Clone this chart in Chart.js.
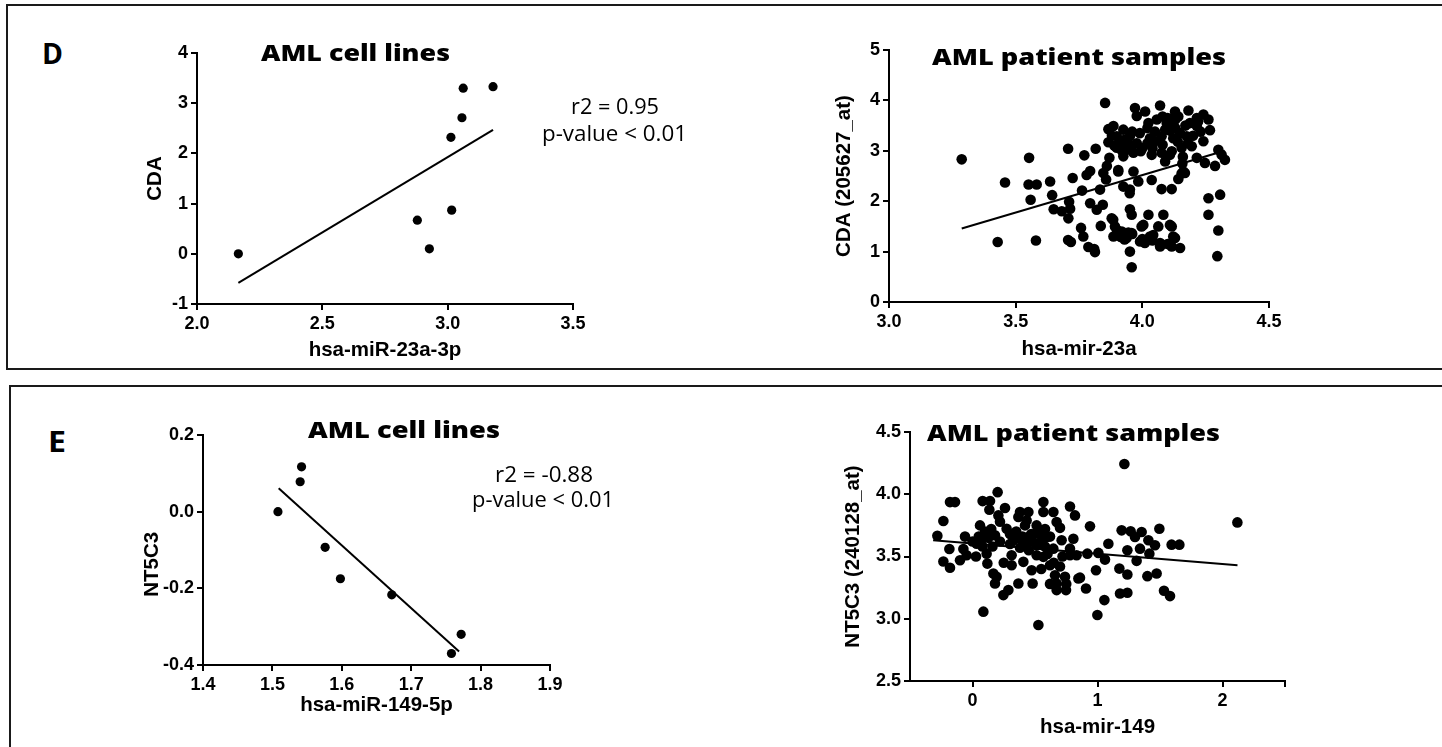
<!DOCTYPE html>
<html>
<head>
<meta charset="utf-8">
<title>AML miRNA / target correlations</title>
<script src="https://cdn.jsdelivr.net/npm/chart.js@4.4.1/dist/chart.umd.min.js"></script>
<style>
  body { margin: 0; background: #fff; }
  #stage { position: relative; width: 1442px; height: 747px; overflow: hidden; background: #fff; }
  .box { position: absolute; border: 2px solid #1a1a1a; }
  .plot { position: absolute; }
  .lbl { position: absolute; white-space: nowrap; color: #000; }
</style>
</head>
<body>
<div id="stage">
  <div class="box" style="left:6px; top:4px; width:1460px; height:362px;"></div>
  <div class="box" style="left:9px; top:385px; width:1460px; height:420px;"></div>
</div>
<script>
// D - CDA vs hsa-miR-23a, cell lines
const dLeftX = [2.165, 2.879, 2.927, 3.016, 3.013, 3.057, 3.062, 3.181];
const dLeftY = [0.00, 0.67, 0.10, 0.87, 2.32, 2.71, 3.30, 3.33];
const dLeftFitX = [2.165, 3.181];
const dLeftFitY = [-0.58, 2.47];
const dLeftXTicks = [2.0, 2.5, 3.0, 3.5];
const dLeftYTicks = [-1, 0, 1, 2, 3, 4];

// D - CDA (205627_at) vs hsa-mir-23a, patient samples
const dRightX = [
  3.287, 3.458, 3.429, 3.553, 3.551, 3.583, 3.559, 3.580, 3.636, 3.644, 3.650, 3.682, 3.707, 3.725, 3.711, 3.715,
  3.708, 3.707, 3.718, 3.771, 3.762, 3.758, 3.767, 3.787, 3.810, 3.813, 3.794, 3.816, 3.794, 3.780, 3.820, 3.836,
  3.844, 3.833, 3.846, 3.853, 3.866, 3.866, 3.870, 3.860, 3.857,
  3.971, 3.978, 4.011, 4.070, 4.129, 4.142, 4.182, 4.215, 4.241, 4.261, 4.267, 4.024, 4.057, 4.096, 4.116, 4.188,
  4.215, 3.886, 3.899, 3.925, 3.951, 3.978, 4.030, 4.050, 4.076, 4.122, 4.149, 4.175, 4.241, 3.899, 3.938, 3.965,
  3.994, 4.037, 4.076, 4.116, 4.155, 4.195, 4.300, 4.313, 4.326, 4.215, 4.247, 4.287, 3.925, 4.090, 4.109, 3.905,
  3.965, 3.925, 3.951, 3.984, 4.037, 4.076, 4.116, 4.142, 4.162, 3.951, 3.958, 3.879, 4.024, 4.083, 3.892, 3.919,
  3.997, 4.063, 4.116, 3.886, 3.938, 3.991, 4.030, 4.070, 4.122, 4.149, 4.116, 3.951, 3.958, 4.261, 4.307, 4.261,
  4.300, 4.296,
  3.900, 3.915, 3.930, 3.945, 3.960, 4.000, 4.040, 4.100, 4.158, 4.160, 4.155, 3.910, 3.940, 3.960, 4.000, 4.020,
  4.040, 4.090, 4.100, 4.130, 4.200, 4.230, 4.170,
  3.880, 3.890, 3.920, 3.930, 3.960, 3.990, 4.020, 4.050, 4.080, 4.110, 4.140, 4.180, 4.220, 4.080, 4.130,
  3.905, 3.958, 4.004, 4.109, 4.043, 4.129, 4.010, 4.070, 3.885, 3.950, 4.168, 3.905
];
const dRightY = [
  2.83, 2.37, 1.19, 2.86, 2.33, 2.33, 2.03, 1.22, 2.39, 2.12, 1.84, 1.80, 3.04, 2.46, 1.99, 1.85,
  1.66, 1.23, 1.19, 2.91, 2.21, 1.47, 1.30, 1.09, 1.05, 0.99, 1.96, 3.04, 2.60, 2.52, 1.83, 1.51,
  1.93, 2.23, 2.56, 3.95, 3.43, 3.17, 2.86, 2.70, 2.43,
  3.85, 3.69, 3.78, 3.90, 3.78, 3.68, 3.80, 3.65, 3.72, 3.62, 3.41, 3.55, 3.62, 3.55, 3.59, 3.55,
  3.49, 3.49, 3.29, 3.42, 3.29, 3.15, 3.25, 3.19, 3.29, 3.25, 3.35, 3.29, 3.19, 3.06, 3.02, 2.96,
  2.99, 2.92, 2.96, 2.99, 3.06, 3.09, 3.02, 2.92, 2.82, 2.86, 2.76, 2.70, 2.89, 2.79, 2.92, 2.62,
  2.59, 2.29, 2.23, 2.39, 2.42, 2.24, 2.24, 2.44, 2.59, 1.84, 1.73, 1.66, 1.73, 1.73, 1.50, 1.40,
  1.50, 1.50, 1.50, 1.30, 1.27, 1.20, 1.30, 1.17, 1.30, 1.07, 1.10, 1.00, 0.69, 2.06, 2.13, 1.73,
  1.42, 0.91,
  1.43, 1.29, 1.24, 1.38, 1.35, 1.25, 1.22, 1.15, 2.75, 2.88, 2.55, 3.15, 3.12, 3.38, 3.05, 3.45,
  3.05, 3.42, 3.65, 3.45, 3.30, 3.38, 3.50,
  3.30, 3.10, 3.00, 3.22, 3.10, 3.35, 3.15, 3.38, 3.12, 3.40, 3.18, 3.15, 3.58, 3.68, 3.62,
  1.40, 1.37, 1.53, 1.53, 1.33, 1.27, 1.17, 1.10, 1.63, 2.16, 2.56, 2.59
];
const dRightFitX = [3.287, 4.325];
const dRightFitY = [1.46, 3.00];
const dRightXTicks = [3.0, 3.5, 4.0, 4.5];
const dRightYTicks = [0, 1, 2, 3, 4, 5];

// E - NT5C3 vs hsa-miR-149, cell lines
const eLeftX = [1.508, 1.540, 1.542, 1.576, 1.598, 1.672, 1.758, 1.772];
const eLeftY = [0.000, 0.078, 0.117, -0.093, -0.175, -0.217, -0.370, -0.320];
const eLeftFitX = [1.509, 1.769];
const eLeftFitY = [0.061, -0.365];
const eLeftXTicks = [1.4, 1.5, 1.6, 1.7, 1.8, 1.9];
const eLeftYTicks = [-0.4, -0.2, 0.0, 0.2];

// E - NT5C3 (240128_at) vs hsa-mir-149, patient samples
const eRightX = [
  -0.281, -0.233, -0.180, -0.140, -0.185, -0.233, -0.180, -0.100, -0.060, -0.073, -0.047, 0.028, 0.060, 0.081, 0.140, 0.135,
  0.201, 0.207, 0.260, 0.220, 0.273, 0.073, 0.127, 0.180, 0.033, 0.113, 0.119, 0.167, 0.193, 0.180, 0.247, 0.287,
  0.087, 0.313, 0.313, 0.367, 0.327, 0.380, 0.367, 0.380, 0.447, 0.433, 0.447, 0.407, 0.473, 0.481, 0.527, 0.513,
  0.567, 0.567, 0.527, 0.513, 0.513, 0.567, 0.593, 0.647, 0.673, 0.700, 0.713, 0.647, 0.620, 0.660, 0.673, 0.740,
  0.673, 0.748, 0.780, 0.820, 0.807, 0.780, 0.833, 0.847, 0.908, 0.940, 0.919, 0.988, 0.999,
  1.215, 2.119, 1.193, 1.265, 1.353, 1.495, 1.300, 1.407, 1.460, 1.087, 1.593, 1.655, 1.340, 1.239, 1.007, 1.060,
  1.313, 1.415, 1.175, 1.239, 1.399, 1.473, 1.180, 1.239, 1.532, 1.580, 1.055,
  0.050, 0.100, 0.430, 0.470, 0.550, 0.600, 0.700, 0.750, 0.620, 0.550, 0.450, 0.250, 0.300, 0.000, 0.150, 0.380,
  0.780, 0.860,
  0.350, 0.400, 0.480, 0.520, 0.580, 0.620, 0.420, 0.300, 0.220, 0.160, 0.080, 0.650, 0.720, 0.580
];
const eRightY = [
  3.667, 3.785, 3.937, 3.937, 3.560, 3.460, 3.410, 3.470, 3.660, 3.560, 3.510, 3.500, 3.750, 3.945, 3.945, 3.875,
  4.017, 3.830, 3.890, 3.780, 3.723, 3.635, 3.650, 3.670, 3.603, 3.523, 3.443, 3.363, 3.337, 3.283, 3.190, 3.230,
  3.057, 3.510, 3.430, 3.283, 3.630, 3.643, 3.817, 3.857, 3.857, 3.790, 3.657, 3.457, 3.390, 3.283, 2.950, 3.750,
  3.857, 3.937, 3.683, 3.590, 3.510, 3.497, 3.657, 3.857, 3.777, 3.730, 3.630, 3.563, 3.430, 3.350, 3.283, 3.337,
  3.230, 3.230, 3.902, 3.830, 3.643, 3.563, 3.510, 3.323, 3.243, 3.742, 3.523, 3.390, 3.030,
  4.243, 3.774, 3.710, 3.702, 3.697, 3.723, 3.657, 3.630, 3.590, 3.603, 3.595, 3.595, 3.563, 3.550, 3.529, 3.475,
  3.465, 3.523, 3.403, 3.355, 3.342, 3.363, 3.203, 3.209, 3.225, 3.182, 3.150,
  3.660, 3.700, 3.600, 3.680, 3.620, 3.520, 3.420, 3.280, 3.280, 3.400, 3.550, 3.450, 3.600, 3.620, 3.720, 3.570,
  3.510, 3.330,
  3.700, 3.660, 3.620, 3.700, 3.720, 3.660, 3.750, 3.680, 3.620, 3.580, 3.580, 3.450, 3.500, 3.580
];
const eRightFitX = [-0.315, 2.12];
const eRightFitY = [3.63, 3.43];
const eRightXTicks = [0, 1, 2, 2.5];
const eRightXLabels = ["0", "1", "2", ""];
const eRightYTicks = [2.5, 3.0, 3.5, 4.0, 4.5];

const stage = document.getElementById("stage");
const family = "'Liberation Sans', Arial, sans-serif";

function addCanvas(box) {
    const canvas = document.createElement("canvas");
    canvas.className = "plot";
    canvas.width = box.width;
    canvas.height = box.height;
    canvas.style.left = box.left + "px";
    canvas.style.top = box.top + "px";
    canvas.style.width = box.width + "px";
    canvas.style.height = box.height + "px";
    stage.appendChild(canvas);
    return canvas;
}

function axis(dir, min, max, ticks, label, title, size) {
    return {
        type: "linear",
        min: min,
        max: max,
        afterBuildTicks: (scale) => { scale.ticks = ticks.map(v => ({ value: v })); },
        afterFit: (scale) => {
            if (dir === "x") scale.height = size;
            else scale.width = size;
        },
        grid: { display: true, drawOnChartArea: false, drawTicks: true, tickLength: 6, color: "#000", lineWidth: 2 },
        border: { display: true, color: "#000", width: 2 },
        ticks: {
            color: "#000",
            autoSkip: false,
            maxRotation: 0,
            padding: 3,
            font: { family: family, size: 18, weight: "bold" },
            callback: (v, i) => label(v, i)
        },
        title: { display: true, text: title, color: "#000", padding: 0, font: { family: family, size: 20.5, weight: "bold" } }
    };
}

function scatterPlot(p) {
    const canvas = addCanvas(p.box);
    const yWidth = p.area.left - p.box.left;
    const xHeight = p.box.top + p.box.height - p.area.bottom;

    const data = {
        datasets: [{
            data: p.xs.map((x, i) => ({ x: x, y: p.ys[i] })),
            backgroundColor: "#000",
            borderWidth: 0,
            pointRadius: p.radius,
            pointHoverRadius: p.radius
        }, {
            data: p.fitX.map((x, i) => ({ x: x, y: p.fitY[i] })),
            showLine: true,
            borderColor: "#000",
            borderWidth: 2,
            pointRadius: 0
        }]
    };

    const config = {
        type: "scatter",
        data: data,
        options: {
            responsive: false,
            animation: false,
            devicePixelRatio: 1,
            layout: {
                padding: {
                    top: p.area.top - p.box.top,
                    right: p.box.left + p.box.width - p.area.right,
                    left: 0,
                    bottom: 0
                }
            },
            plugins: { legend: { display: false }, tooltip: { enabled: false } },
            scales: {
                x: axis("x", p.xMin, p.xMax, p.xTicks, p.xLabel, p.xTitle, xHeight),
                y: axis("y", p.yMin, p.yMax, p.yTicks, p.yLabel, p.yTitle, yWidth)
            }
        }
    };
    return new Chart(canvas, config);
}

// text outside the plots: panel letters, titles, statistics
function placeText(text, x, baseline, font, width, align) {
    const el = document.createElement("div");
    el.className = "lbl";
    el.style.font = font;
    const span = document.createElement("span");
    span.textContent = text;
    const mark = document.createElement("span");
    mark.style.cssText = "display:inline-block;width:0;height:0;vertical-align:baseline";
    el.appendChild(span);
    el.appendChild(mark);
    stage.appendChild(el);
    const natural = span.getBoundingClientRect().width;
    const sx = width ? width / natural : 1;
    el.style.top = (baseline - mark.offsetTop) + "px";
    el.style.left = (align === "center" ? x - natural * sx / 2 : x) + "px";
    el.style.transformOrigin = "0 0";
    el.style.transform = `scaleX(${sx})`;
}

const fixed1 = v => v.toFixed(1);
const plain = v => String(v);

scatterPlot({
    box: { left: 143, top: 38, width: 450, height: 325 },
    area: { left: 197, top: 53, right: 573, bottom: 304 },
    xs: dLeftX, ys: dLeftY, fitX: dLeftFitX, fitY: dLeftFitY, radius: 4.6,
    xMin: 2.0, xMax: 3.5, xTicks: dLeftXTicks, xLabel: fixed1, xTitle: "hsa-miR-23a-3p",
    yMin: -1, yMax: 4, yTicks: dLeftYTicks, yLabel: plain, yTitle: "CDA"
});

scatterPlot({
    box: { left: 832, top: 35, width: 457, height: 327 },
    area: { left: 889, top: 50, right: 1269, bottom: 302 },
    xs: dRightX, ys: dRightY, fitX: dRightFitX, fitY: dRightFitY, radius: 5.3,
    xMin: 3.0, xMax: 4.5, xTicks: dRightXTicks, xLabel: fixed1, xTitle: "hsa-mir-23a",
    yMin: 0, yMax: 5, yTicks: dRightYTicks, yLabel: plain, yTitle: "CDA (205627_at)"
});

scatterPlot({
    box: { left: 140, top: 420, width: 430, height: 298 },
    area: { left: 203, top: 435, right: 550, bottom: 665 },
    xs: eLeftX, ys: eLeftY, fitX: eLeftFitX, fitY: eLeftFitY, radius: 4.6,
    xMin: 1.4, xMax: 1.9, xTicks: eLeftXTicks, xLabel: fixed1, xTitle: "hsa-miR-149-5p",
    yMin: -0.4, yMax: 0.2, yTicks: eLeftYTicks, yLabel: fixed1, yTitle: "NT5C3     "
});

scatterPlot({
    box: { left: 841, top: 417, width: 464, height: 323 },
    area: { left: 910, top: 432, right: 1285, bottom: 681 },
    xs: eRightX, ys: eRightY, fitX: eRightFitX, fitY: eRightFitY, radius: 5.3,
    xMin: -0.5, xMax: 2.5, xTicks: eRightXTicks, xLabel: (v, i) => eRightXLabels[i], xTitle: "hsa-mir-149",
    yMin: 2.5, yMax: 4.5, yTicks: eRightYTicks, yLabel: fixed1, yTitle: "NT5C3 (240128_at)"
});

const titleFont = "800 23px 'Open Sans', sans-serif";
const statFont = "22px 'Open Sans', sans-serif";

placeText("D", 41.5, 63.5, "bold 28px 'Open Sans', sans-serif", 21);
placeText("E", 48, 451.5, "bold 28px 'Open Sans', sans-serif", 18);

placeText("AML cell lines", 261, 60.5, titleFont, 189);
placeText("AML patient samples", 932, 65, titleFont, 294);
placeText("AML cell lines", 308, 437.5, titleFont, 192);
placeText("AML patient samples", 927, 441, titleFont, 293);

placeText("r2 = 0.95", 614.5, 113.5, statFont, 88, "center");
placeText("p-value < 0.01", 614.7, 140.5, statFont, 145, "center");
placeText("r2 = -0.88", 544, 482, statFont, 98, "center");
placeText("p-value < 0.01", 543, 507, statFont, 142, "center");
</script>
</body>
</html>
